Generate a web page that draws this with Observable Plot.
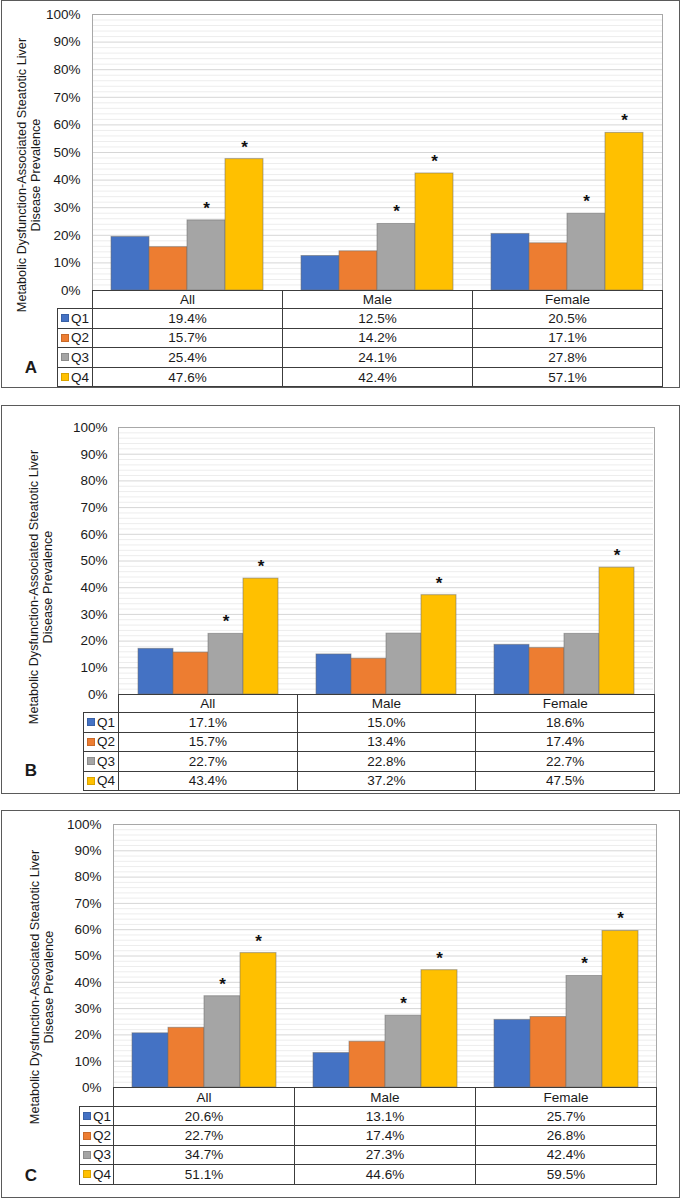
<!DOCTYPE html>
<html><head><meta charset="utf-8">
<script src="https://cdn.jsdelivr.net/npm/d3@7"></script>
<script src="https://cdn.jsdelivr.net/npm/@observablehq/plot@0.6"></script>
<style>
body{margin:0;background:#fff;font-family:"Liberation Sans",Arial,sans-serif;color:#1a1a1a;}
#page{position:relative;width:682px;height:1199px;overflow:hidden;background:#fff;}
.abs{position:absolute;box-sizing:border-box;}
.cell{position:absolute;box-sizing:border-box;border:1px solid #3c3c3c;display:flex;align-items:center;justify-content:center;font-size:13.5px;white-space:nowrap;background:#fff;}
.lab{justify-content:flex-start;padding-left:3px;}
.sw{display:inline-block;width:8px;height:8px;margin-right:2px;box-sizing:border-box;border:1px solid rgba(0,0,0,0.15);}
.ytitle{position:absolute;width:320px;text-align:center;font-size:12.7px;line-height:14px;transform:rotate(-90deg);white-space:nowrap;}
.letter{position:absolute;font-weight:bold;font-size:17px;transform:translate(-50%,-50%);}
</style></head><body><div id="page"></div>
<script>
// ---- data ----
const groups = ["All", "Male", "Female"];
const quartiles = ["Q1", "Q2", "Q3", "Q4"];
const quartileColors = ["#4472C4", "#ED7D31", "#A5A5A5", "#FFC000"];
const panelLetters = ["A", "B", "C"];
const yTitleLines = ["Metabolic Dysfunction-Associated Steatotic Liver", "Disease Prevalence"];
const yTicks = [0, 10, 20, 30, 40, 50, 60, 70, 80, 90, 100];

// prevalence (%) per group (rows: All, Male, Female) x quartile (Q1..Q4)
const prevA = [[19.4, 15.7, 25.4, 47.6], [12.5, 14.2, 24.1, 42.4], [20.5, 17.1, 27.8, 57.1]];
const prevB = [[17.1, 15.7, 22.7, 43.4], [15.0, 13.4, 22.8, 37.2], [18.6, 17.4, 22.7, 47.5]];
const prevC = [[20.6, 22.7, 34.7, 51.1], [13.1, 17.4, 27.3, 44.6], [25.7, 26.8, 42.4, 59.5]];
// significance asterisks
const starsA = [[0, 0, 1, 1], [0, 0, 1, 1], [0, 0, 1, 1]];
const starsB = [[0, 0, 1, 1], [0, 0, 0, 1], [0, 0, 0, 1]];
const starsC = [[0, 0, 1, 1], [0, 0, 1, 1], [0, 0, 1, 1]];

const panelValues = [prevA, prevB, prevC];
const panelStars = [starsA, starsB, starsC];

// ---- layout (page pixels) ----
const layouts = [
  {box: [1, 0, 680, 388], plot: [92, 14, 662, 290], labelLeft: 57, headH: 18, rowH: 19.6, title: [29, 175], letter: [31, 368]},
  {box: [1, 405, 680, 794], plot: [118, 427, 654, 694], labelLeft: 83, headH: 18, rowH: 19.5, title: [41, 587], letter: [31, 771]},
  {box: [1, 810, 680, 1198], plot: [113, 824, 656, 1087], labelLeft: 79, headH: 19, rowH: 19.4, title: [42, 987], letter: [31, 1176]}
];

const page = document.getElementById("page");
const font = '"Liberation Sans", Arial, sans-serif';
const minorTicks = d3.range(2, 100, 2).filter(d => d % 10 !== 0);

function el(cls, style, html) {
  const d = document.createElement("div");
  d.className = cls;
  Object.assign(d.style, style);
  if (html != null) d.innerHTML = html;
  page.appendChild(d);
  return d;
}

panelLetters.forEach((letter, pi) => {
  const L = layouts[pi];
  const prev = panelValues[pi];
  const stars = panelStars[pi];
  const [bl, bt, br, bb] = L.box;
  const [pl, pt, pr, pb] = L.plot;

  // panel box
  el("abs", {left: bl + "px", top: bt + "px", width: (br - bl) + "px", height: (bb - bt) + "px", border: "1.5px solid #5a5a5a"});

  const rows = [];
  groups.forEach((g, gi) => quartiles.forEach((q, qi) =>
    rows.push({group: g, q, value: prev[gi][qi], star: stars[gi][qi]})));

  const chart = Plot.plot({
    width: 682,
    height: pb - bt,
    marginLeft: pl,
    marginRight: 682 - pr,
    marginTop: pt - bt,
    marginBottom: 0,
    style: {fontFamily: font, fontSize: "13.5px", color: "#1a1a1a", background: "transparent", overflow: "visible"},
    fx: {domain: groups, padding: 0, axis: null},
    x: {domain: quartiles, paddingInner: 0, paddingOuter: 0.5, axis: null},
    y: {domain: [0, 100], ticks: yTicks, tickFormat: d => d + "%", tickSize: 0, tickPadding: 12, label: null},
    color: {domain: quartiles, range: quartileColors},
    marks: [
      Plot.ruleY(minorTicks, {stroke: "#ededed", strokeWidth: 1}),
      Plot.ruleY(yTicks.filter(d => d > 0), {stroke: "#d6d6d6", strokeWidth: 1}),
      Plot.barY(rows, {fx: "group", x: "q", y: "value", fill: "q", stroke: "#6e6e6e", strokeOpacity: 0.55, strokeWidth: 1}),
      Plot.text(rows.filter(d => d.star), {fx: "group", x: "q", y: "value", text: () => "*", dy: -12, fontSize: 17, fontWeight: "bold", fill: "#111"})
    ]
  });
  chart.style.position = "absolute";
  chart.style.left = "0px";
  chart.style.top = bt + "px";
  page.appendChild(chart);

  // plot area frame (top/left/right)
  el("abs", {left: pl + "px", top: pt + "px", width: (pr - pl + 1) + "px", height: (pb - pt) + "px",
    border: "1px solid #a8a8a8", borderBottom: "none", pointerEvents: "none"});

  // table
  const cw = (pr - pl) / 3;
  groups.forEach((g, gi) => {
    el("cell", {left: (pl + gi * cw) + "px", top: pb + "px", width: (cw + 1) + "px", height: (L.headH + 1) + "px"}, g);
  });
  quartiles.forEach((q, qi) => {
    const y = pb + L.headH + qi * L.rowH;
    el("cell lab", {left: L.labelLeft + "px", top: y + "px", width: (pl - L.labelLeft + 1) + "px", height: (L.rowH + 1) + "px"},
      `<span class="sw" style="background:${quartileColors[qi]}"></span>${q}`);
    groups.forEach((g, gi) => {
      el("cell", {left: (pl + gi * cw) + "px", top: y + "px", width: (cw + 1) + "px", height: (L.rowH + 1) + "px"},
        prev[gi][qi].toFixed(1) + "%");
    });
  });

  // y title
  el("ytitle", {left: (L.title[0] - 160) + "px", top: (L.title[1] - 14) + "px"}, yTitleLines.join("<br>"));
  // panel letter
  el("letter", {left: L.letter[0] + "px", top: L.letter[1] + "px"}, letter);
});
</script></body></html>
